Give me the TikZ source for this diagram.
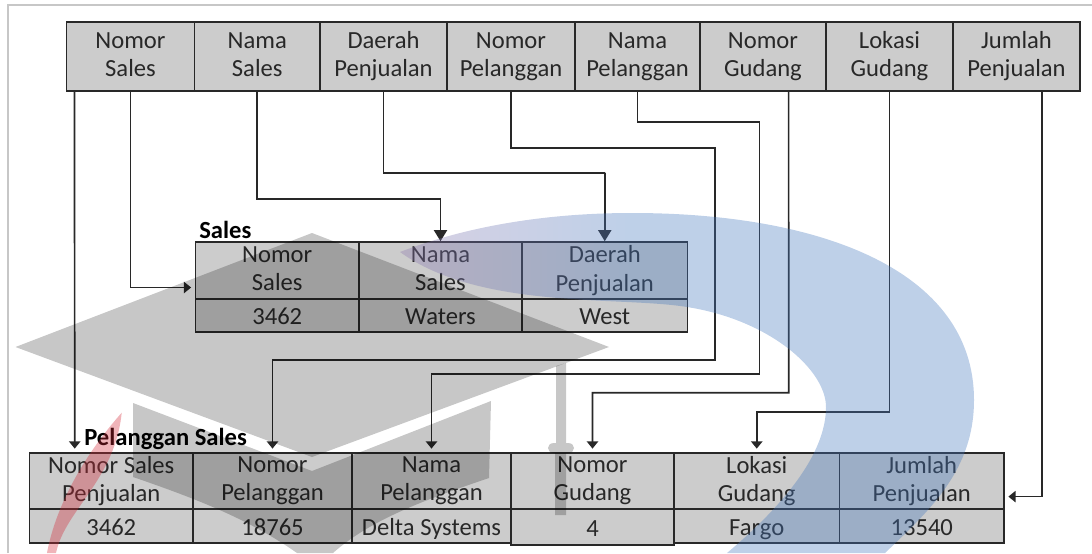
\documentclass[tikz,border=0pt]{standalone}
\usepackage{fontspec}
\setmainfont{Carlito}
\usetikzlibrary{arrows.meta}

\definecolor{cellgray}{RGB}{204,204,204}
\definecolor{inkgray}{RGB}{40,40,40}
\definecolor{capblue}{RGB}{69,120,189}
\definecolor{cappurple}{RGB}{160,120,171}
\definecolor{capred}{RGB}{211,40,54}

\newcommand{\cellstrut}{\rule[-3pt]{0pt}{19pt}}

\pgfdeclarehorizontalshading{crescent}{100bp}{color(0bp)=(cappurple); color(20bp)=(cappurple); color(45bp)=(capblue); color(100bp)=(capblue)}

\tikzset{
  cell/.style={draw=inkgray, line width=1.1pt, fill=cellgray, text=inkgray, align=center, inner sep=0pt,
    font=\fontsize{17.5}{20}\selectfont, execute at begin node=\cellstrut, execute at end node=\cellstrut,
    minimum width=#1*0.025cm},
  headcell/.style={cell=#1, minimum height=1.725cm, execute at begin node=\rule[-3pt]{0pt}{22.6pt}},
  salesname/.style={cell=#1, minimum height=1.425cm},
  salesval/.style={cell=#1, minimum height=0.825cm},
  custname/.style={cell=#1, minimum height=1.4cm},
  custval/.style={cell=#1, minimum height=0.85cm},
  title/.style={inner sep=0pt, anchor=west, text=black, font=\bfseries\fontsize{17.5}{20}\selectfont},
  biglink/.style={draw=inkgray, line width=1.2pt, -{Triangle[length=0.28cm, width=0.33cm]}},
  smalllink/.style={draw=inkgray, line width=1.2pt, shorten >=0.09cm, -{Triangle[length=0.18cm, width=0.28cm]}},
  capgray/.style={fill=black, fill opacity=0.22}
}

\begin{document}
\begin{tikzpicture}[x=0.025cm, y=-0.025cm]

\useasboundingbox (0,0) rectangle (1092,553);

\draw [black!22, line width=0.8pt] (8,553) -- (8,5) -- (1092,5);

\node[headcell=128] (topNomorSales) at (130.5,56.5) {Nomor\\Sales};
\node[headcell=125.5] (topNamaSales) at (257.25,56.5) {Nama\\Sales};
\node[headcell=127] (topDaerah) at (383.5,56.5) {Daerah\\Penjualan};
\node[headcell=128] (topNomorPel) at (511,56.5) {Nomor\\Pelanggan};
\node[headcell=125] (topNamaPel) at (637.5,56.5) {Nama\\Pelanggan};
\node[headcell=126] (topNomorGud) at (763,56.5) {Nomor\\Gudang};
\node[headcell=127] (topLokasi) at (889.5,56.5) {Lokasi\\Gudang};
\node[headcell=127] (topJumlah) at (1016.5,56.5) {Jumlah\\Penjualan};

\node[title] (salesTitle) at (199,230) {Sales};
\node[salesname=163.5] (slNomor) at (277.25,270.5) {Nomor\\Sales};
\node[salesname=163] (slNama) at (440.5,270.5) {Nama\\Sales};
\node[salesname=165.5] (slDaerah) at (604.75,270.5) {Daerah\\Penjualan};
\node[salesval=163.5] (slNomorVal) at (277.25,315.5) {3462};
\node[salesval=163] (slNamaVal) at (440.5,315.5) {Waters};
\node[salesval=165.5] (slDaerahVal) at (604.75,315.5) {West};

\node[title] (custTitle) at (84,439) {Pelanggan Sales};
\node[custname=163.5] (plNomor) at (111.25,481) {Nomor Sales\\Penjualan};
\node[custname=159] (plNomorPel) at (272.5,481) {Nomor\\Pelanggan};
\node[custname=159] (plNamaPel) at (431.5,481) {Nama\\Pelanggan};
\node[custname=163] (plGudang) at (592.5,481) {Nomor\\Gudang};
\node[custname=165.5] (plLokasi) at (756.75,481) {Lokasi\\Gudang};
\node[custname=164.5] (plJumlah) at (921.75,481) {Jumlah\\Penjualan};
\node[custval=163.5] (plNomorVal) at (111.25,526) {3462};
\node[custval=159] (plNomorPelVal) at (272.5,526) {18765};
\node[custval=159] (plNamaPelVal) at (431.5,526) {Delta Systems};
\node[custname=163, minimum height=0.9cm] (plGudangVal) at (592.5,527) {4};
\node[custval=165.5] (plLokasiVal) at (756.75,526) {Fargo};
\node[custval=164.5] (plJumlahVal) at (921.75,526) {13540};

\coordinate (bendA) at (715,148);
\coordinate (bendB) at (715,360);
\coordinate (bendC) at (759.6,122);
\coordinate (bendD) at (759.6,374.3);
\coordinate (bendE) at (788.7,392.7);
\coordinate (bendF) at (889.5,411.7);
\coordinate (bendG) at (440,199);
\coordinate (bendH) at (605,173);

\draw [smalllink] ([xshift=-1.4cm]topNomorSales.south) -- ([xshift=-0.9125cm]plNomor.north);
\draw [smalllink] (topNomorSales.south) |- ([yshift=-0.425cm]slNomor.west);
\draw [biglink] (topNamaSales.south) |- (bendG) -| (slNama.north);
\draw [biglink] (topDaerah.south) |- (bendH) -| (slDaerah.north);
\draw [smalllink] (topNomorPel.south) |- (bendA) -- (bendB) -| (plNomorPel.north);
\draw [smalllink] (topNamaPel.south) |- (bendC) -- (bendD) -| (plNamaPel.north);
\draw [smalllink] ([xshift=0.64cm]topNomorGud.south) -- (bendE) -| (plGudang.north);
\draw [smalllink] (topLokasi.south) -- (bendF) -| (plLokasi.north);
\draw [smalllink] ([xshift=0.64cm]topJumlah.south) |- ([yshift=-0.39cm]plJumlah.east);

\begin{scope}[transparency group, opacity=0.35]
\shade [shading=crescent] (400,252) .. controls (470,225) and (550,213) .. (632,213)
  .. controls (820,213) and (974,270) .. (974,400) .. controls (974,470) and (930,510) .. (885,553)
  -- (727,553) .. controls (790,500) and (826,450) .. (826,407) .. controls (826,370) and (770,320) .. (687,307)
  .. controls (620,296) and (480,310) .. (400,252) -- cycle;
\end{scope}

\fill [capred, fill opacity=0.35] (121.7,412.7) .. controls (80,460) and (55,510) .. (47,553)
  -- (56,553) .. controls (65,510) and (115,480) .. (121.7,412.7) -- cycle;

\fill [capgray] (312,233) -- (609,347) -- (312,457) -- (15.5,347) -- cycle;
\fill [capgray] (133,403) -- (312,471) -- (491,401) -- (489,478) .. controls (424,500) and (370,520) .. (333,553)
  -- (297,553) .. controls (250,520) and (200,500) .. (133,477) -- cycle;
\fill [capgray] (556,366) -- (566,363) -- (566,443) -- (568,443) .. controls (576,443) and (576,453) .. (568,453)
  -- (566,453) -- (566,515) -- (555,515) -- (555,453) -- (554,453) .. controls (546,453) and (546,443) .. (554,443) -- (556,443) -- cycle;

\end{tikzpicture}
\end{document}
